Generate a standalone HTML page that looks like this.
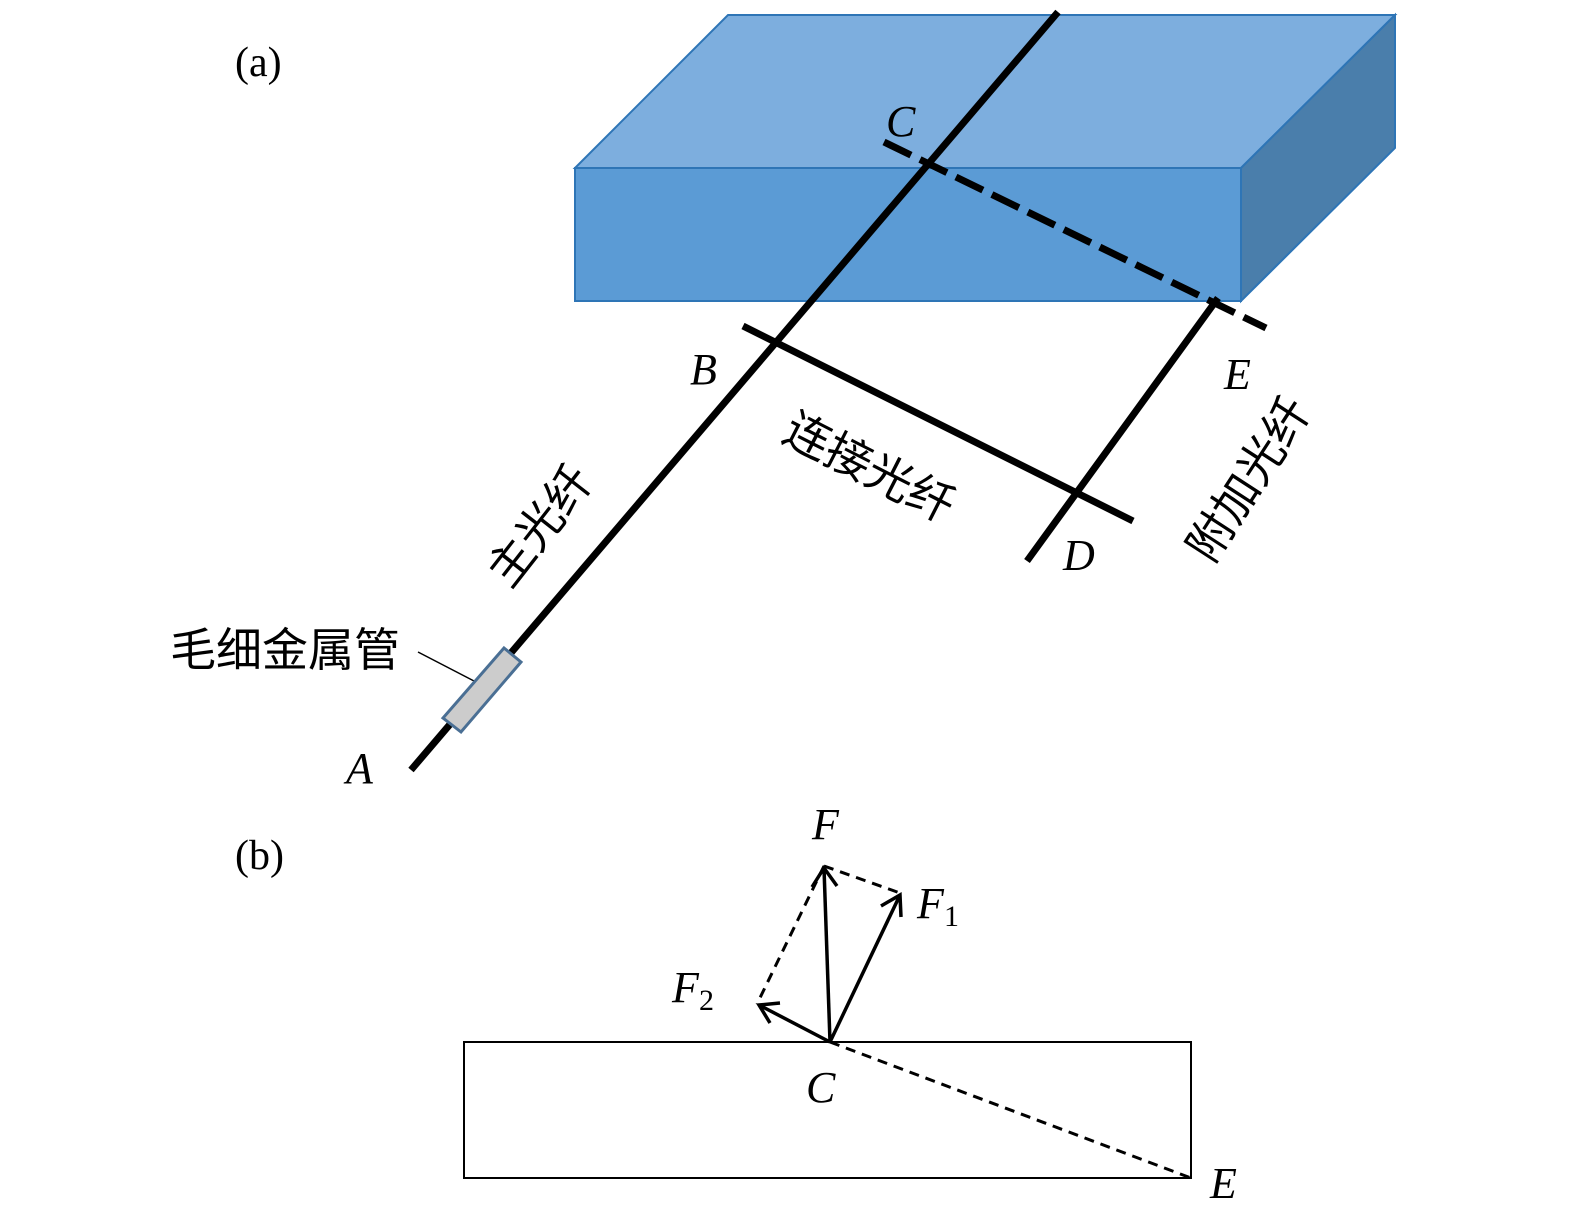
<!DOCTYPE html>
<html><head><meta charset="utf-8"><style>
html,body{margin:0;padding:0;background:#fff;}
svg{display:block;}
text{font-family:"Liberation Serif","Noto Serif CJK SC",serif;}
.it{font-style:italic;font-size:44px;}
.cjk{font-family:"Liberation Sans","Noto Sans CJK SC",sans-serif;font-size:46px;}
</style></head><body>
<svg width="1575" height="1220" viewBox="0 0 1575 1220" xmlns="http://www.w3.org/2000/svg">
<polygon points="575,168 728,15 1395,15 1241,168" fill="#7daede" stroke="#2e75b6" stroke-width="2"/>
<polygon points="1241,168 1395,15 1395,148 1241,301" fill="#4a7eab" stroke="#2e75b6" stroke-width="2"/>
<rect x="575" y="168" width="666" height="133" fill="#5b9bd5" stroke="#2e75b6" stroke-width="2"/>
<line x1="411" y1="770" x2="1058" y2="12" stroke="#000" stroke-width="7"/>
<line x1="743" y1="326" x2="1133" y2="521" stroke="#000" stroke-width="7"/>
<line x1="1027" y1="561" x2="1218" y2="298" stroke="#000" stroke-width="7"/>
<line x1="884" y1="142" x2="1266" y2="328" stroke="#000" stroke-width="7" stroke-dasharray="30,10"/>
<line x1="418" y1="652" x2="474" y2="681" stroke="#000" stroke-width="1.5"/>
<polygon points="504,648 521,662 461,732 443,718" fill="#cccccc" stroke="#4a6f94" stroke-width="3"/>
<text x="235" y="76" font-size="42">(a)</text>
<text x="886" y="136" class="it">C</text>
<text x="690" y="384" class="it">B</text>
<text x="1224" y="389" class="it">E</text>
<text x="1063" y="570" class="it">D</text>
<text x="346" y="783" class="it">A</text>
<text class="cjk" transform="translate(510,590) rotate(-52)">主光纤</text>
<text class="cjk" transform="translate(780,440) rotate(27)">连接光纤</text>
<text class="cjk" transform="translate(1212,565) rotate(-57)">附加光纤</text>
<text class="cjk" x="170" y="666" font-size="47">毛细金属管</text>
<text x="235" y="869" font-size="42">(b)</text>
<rect x="464" y="1042" width="727" height="136" fill="none" stroke="#000" stroke-width="2"/>
<g stroke="#000" stroke-width="3" fill="none" stroke-dasharray="10,7">
<line x1="830" y1="1042" x2="1191" y2="1178"/>
<line x1="824" y1="866" x2="900" y2="893"/>
<line x1="824" y1="866" x2="757" y2="1004"/>
</g>
<g stroke="#000" stroke-width="3.5" fill="none">
<line x1="830" y1="1042" x2="824" y2="868"/>
<polyline points="812,887 824,868 837,886"/>
<line x1="830" y1="1042" x2="900" y2="895"/>
<polyline points="881,906 900,895 901,917"/>
<line x1="830" y1="1042" x2="759" y2="1005"/>
<polyline points="770,1023 759,1005 780,1003"/>
</g>
<text x="812" y="839" class="it">F</text>
<text x="917" y="918" class="it">F</text><text x="944" y="926" font-size="30">1</text>
<text x="672" y="1002" class="it">F</text><text x="699" y="1010" font-size="30">2</text>
<text x="806" y="1102" class="it">C</text>
<text x="1210" y="1198" class="it">E</text>
</svg>
</body></html>
